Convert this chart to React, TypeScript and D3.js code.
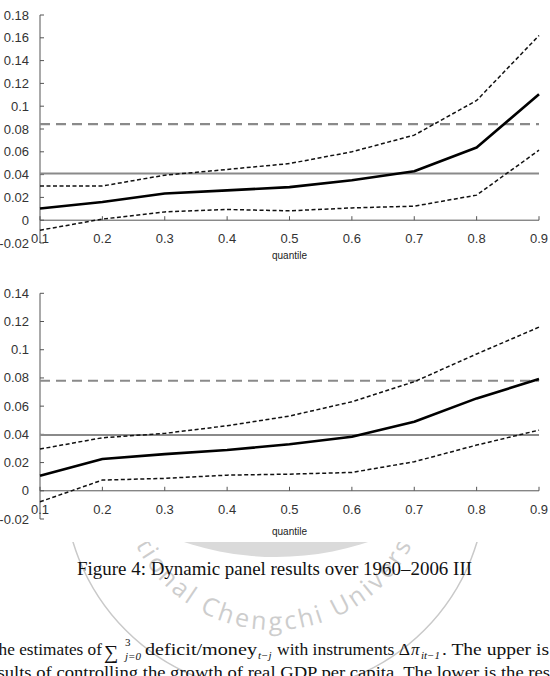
import React from "react";
import * as d3 from "d3";

// quantiles on the x axis
const quantiles = [0.1, 0.2, 0.3, 0.4, 0.5, 0.6, 0.7, 0.8, 0.9];

// upper panel
const coefTop = [0.0103, 0.016, 0.0234, 0.0262, 0.029, 0.035, 0.043, 0.0638, 0.1105];
const upperTop = [0.03, 0.03, 0.0395, 0.0445, 0.0497, 0.06, 0.0746, 0.105, 0.162];
const lowerTop = [-0.0088, 0.001, 0.0073, 0.0094, 0.0082, 0.0108, 0.0123, 0.022, 0.0614];
const solidRefTop = 0.041;
const dashRefTop = 0.0842;
const yTicksTop = [-0.02, 0, 0.02, 0.04, 0.06, 0.08, 0.1, 0.12, 0.14, 0.16, 0.18];

// lower panel
const coefBottom = [0.0106, 0.0225, 0.026, 0.0289, 0.033, 0.0383, 0.049, 0.0655, 0.0792];
const upperBottom = [0.0296, 0.0376, 0.0407, 0.0461, 0.053, 0.0631, 0.0773, 0.097, 0.116];
const lowerBottom = [-0.0078, 0.0076, 0.0088, 0.0111, 0.0118, 0.013, 0.0206, 0.0324, 0.043];
const solidRefBottom = 0.0395;
const dashRefBottom = 0.078;
const yTicksBottom = [-0.02, 0, 0.02, 0.04, 0.06, 0.08, 0.1, 0.12, 0.14];

const xTickLabels = quantiles.map(q => q.toFixed(1));

const sans = "'Liberation Sans', Arial, sans-serif";
const serif = "'Liberation Serif', 'DejaVu Serif', serif";

const fmt = (d: number) => String(+d.toFixed(2));

function Panel({ coef, upper, lower, solidRef, dashRef, yTicks, top, bottom, labelY }: any) {
  const x = d3.scaleLinear().domain([0.1, 0.9]).range([40, 539]);
  const y = d3
    .scaleLinear()
    .domain([yTicks[0], yTicks[yTicks.length - 1]])
    .range([bottom, top]);

  const line = (vals: number[]) =>
    d3
      .line<number>()
      .x((_, i) => x(quantiles[i]))
      .y(d => y(d))(vals) as string;

  const y0 = y(0);

  return (
    <g>
      {/* y tick labels */}
      {yTicks.map((t: number) => (
        <text
          key={t}
          x={29}
          y={y(t)}
          dy="0.35em"
          textAnchor="end"
          fontFamily={sans}
          fontSize={13}
          fill="#333"
        >
          {fmt(t)}
        </text>
      ))}
      {/* x tick labels */}
      {quantiles.map((q, i) => (
        <text
          key={q}
          x={x(q)}
          y={y0 + 23}
          textAnchor="middle"
          fontFamily={sans}
          fontSize={13}
          fill="#333"
        >
          {xTickLabels[i]}
        </text>
      ))}
      <text x={x(0.5)} y={labelY} textAnchor="middle" fontFamily={sans} fontSize={10} fill="#222">
        quantile
      </text>

      {/* axes */}
      <line x1={40} x2={40} y1={y(yTicks[0])} y2={y(yTicks[yTicks.length - 1])} stroke="#555" strokeWidth={1} />
      {yTicks.map((t: number) => (
        <line key={t} x1={40} x2={44} y1={y(t)} y2={y(t)} stroke="#555" strokeWidth={1} />
      ))}
      <line x1={x(0.1)} x2={x(0.9)} y1={y0} y2={y0} stroke="#555" strokeWidth={1} />
      {quantiles.map(q => (
        <line key={q} x1={x(q)} x2={x(q)} y1={y0} y2={y0 - 4} stroke="#555" strokeWidth={1} />
      ))}

      {/* reference lines */}
      <line x1={x(0.1)} x2={x(0.9)} y1={y(solidRef)} y2={y(solidRef)} stroke="#8a8a8a" strokeWidth={2} />
      <line
        x1={x(0.1)}
        x2={x(0.9)}
        y1={y(dashRef)}
        y2={y(dashRef)}
        stroke="#8a8a8a"
        strokeWidth={2.2}
        strokeDasharray="10,6"
      />

      {/* confidence bands and estimate */}
      <path d={line(upper)} fill="none" stroke="#111" strokeWidth={1.5} strokeDasharray="4,2.5" />
      <path d={line(lower)} fill="none" stroke="#111" strokeWidth={1.5} strokeDasharray="4,2.5" />
      <path d={line(coef)} fill="none" stroke="#000" strokeWidth={2.6} strokeLinejoin="round" />
    </g>
  );
}

function Watermark() {
  const cx = 274;
  const cy = 475;
  const r = 155;
  const textArc = `M${cx - r},${cy} A${r},${r} 0 0 0 ${cx + r},${cy}`;
  return (
    <g clipPath="url(#wmClip)">
      <circle cx={276} cy={267} r={290} fill="#dadada" />
      <circle cx={275} cy={481} r={211} fill="none" stroke="#c9c9c9" strokeWidth={1.5} />
      <path id="wmArc" d={textArc} fill="none" />
      <text fontFamily="'Open Sans', 'DejaVu Sans', sans-serif" fontSize={25} fill="#cdcdcd" letterSpacing={3}>
        <textPath href="#wmArc" startOffset="50%" textAnchor="middle">
          National Chengchi University
        </textPath>
      </text>
    </g>
  );
}

export default function App() {
  return (
    <svg
      width={550}
      height={676}
      style={{ position: "absolute", left: 0, top: 0, background: "#fff" }}
    >
      <defs>
        <clipPath id="wmClip">
          <rect x={0} y={542} width={550} height={134} />
        </clipPath>
      </defs>
      <rect width={550} height={676} fill="#fff" />
      <Watermark />

      <Panel
        coef={coefTop}
        upper={upperTop}
        lower={lowerTop}
        solidRef={solidRefTop}
        dashRef={dashRefTop}
        yTicks={yTicksTop}
        top={15}
        bottom={243}
        labelY={259}
      />
      <Panel
        coef={coefBottom}
        upper={upperBottom}
        lower={lowerBottom}
        solidRef={solidRefBottom}
        dashRef={dashRefBottom}
        yTicks={yTicksBottom}
        top={293.3}
        bottom={519}
        labelY={535}
      />

      <text x={77} y={575} fontFamily={serif} fontSize={18} fill="#111" textLength={395} lengthAdjust="spacingAndGlyphs">
        Figure 4: Dynamic panel results over 1960–2006 III
      </text>

      <g fontFamily={serif} fontSize={17} fill="#111">
        <text x={-12} y={655} textLength={114} lengthAdjust="spacingAndGlyphs">The estimates of</text>
        <text x={104} y={659} fontSize={20}>∑</text>
        <text x={125} y={646} fontSize={11}>3</text>
        <text x={125} y={660} fontSize={11} fontStyle="italic">j=0</text>
        <text x={145} y={655} textLength={112} lengthAdjust="spacingAndGlyphs">deficit/money</text>
        <text x={258} y={659} fontSize={11} fontStyle="italic">t−j</text>
        <text x={277} y={655} textLength={133} lengthAdjust="spacingAndGlyphs">with instruments Δ</text>
        <text x={411} y={655} fontStyle="italic">π</text>
        <text x={421} y={659} fontSize={11} fontStyle="italic">it−1</text>
        <text x={442} y={655} textLength={107} lengthAdjust="spacingAndGlyphs">. The upper is</text>

        <text x={-17} y={678} textLength={567} lengthAdjust="spacingAndGlyphs">
          results of controlling the growth of real GDP per capita. The lower is the res
        </text>
      </g>
    </svg>
  );
}
